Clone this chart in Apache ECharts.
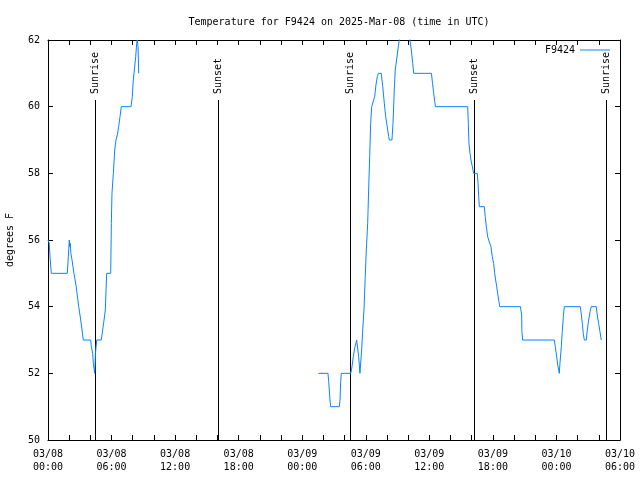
<!DOCTYPE html>
<html>
<head>
<meta charset="utf-8">
<script src="https://cdn.jsdelivr.net/npm/echarts@6/dist/echarts.min.js"></script>
<style>html,body{margin:0;padding:0;background:#fff;}#c{width:640px;height:480px;}</style>
</head>
<body>
<div id="c"></div>
<script>
// Hours since 2025-03-08 00:00 UTC and temperature in degrees F
var hours1 = [0.00,0.12,0.19,0.31,1.82,1.92,2.01,2.06,2.10,2.16,2.27,2.45,2.64,2.90,3.09,3.21,3.33,4.03,4.09,4.22,4.28,4.41,4.48,4.60,5.03,5.16,5.29,5.41,5.48,5.54,5.92,5.98,6.04,6.17,6.30,6.42,6.54,6.67,6.80,6.92,7.84,7.96,8.05,8.15,8.28,8.37,8.43,8.50,8.56];
var temps1 = [56,55.9,55.5,55,55,55.5,56,55.8,55.9,55.6,55.4,55.0,54.65,54.0,53.6,53.3,53.0,53.0,52.8,52.6,52.3,52.0,52.6,53.0,53.0,53.3,53.6,53.9,54.5,55.0,55.0,56.5,57.4,58.0,58.7,59.0,59.15,59.4,59.7,60.0,60.0,60.3,60.8,61.1,61.5,61.9,62.0,61.8,61.0];
var hours2 = [25.52,26.43,26.50,26.62,26.69,27.50,27.57,27.63,27.69,28.58,28.70,28.82,28.95,29.14,29.33,29.45,29.61,29.71,29.83,29.95,30.05,30.18,30.27,30.37,30.46,30.56,30.71,30.84,30.96,31.09,31.18,31.46,31.60,31.75,31.88,32.00,32.16,32.22,32.47,32.57,32.69,32.78,32.91,33.07,33.16,33.27,34.08,34.17,34.30,34.43,34.53,36.20,36.30,36.41,36.51,36.58,39.62,39.68,39.74,39.84,39.93,40.06,40.18,40.53,40.60,40.66,40.72,41.19,41.28,41.38,41.51,41.60,41.72,41.82,41.94,42.07,42.17,42.26,42.36,42.45,42.55,42.64,44.60,44.72,44.74,44.81,47.80,47.89,48.02,48.12,48.21,48.27,48.33,48.46,48.55,48.65,48.74,50.25,50.34,50.44,50.53,50.63,50.82,50.91,51.04,51.17,51.29,51.76,51.85,51.98,52.11,52.23];
var temps2 = [52,52,51.75,51.2,51.0,51.0,51.2,51.75,52.0,52.0,52.2,52.5,52.75,53.0,52.5,52.0,52.7,53.3,53.9,54.9,55.7,56.5,57.5,58.5,59.5,60.0,60.0,60.3,60.65,60.9,61.0,61.0,60.6,60.1,59.7,59.45,59.1,59.0,59.0,59.5,60.5,61.1,61.4,61.8,62.0,62.3,62.3,62.0,61.7,61.3,61.0,61.0,60.7,60.4,60.15,60.0,60.0,59.5,58.9,58.6,58.4,58.2,58.0,58.0,57.7,57.3,57.0,57.0,56.7,56.4,56.1,56.0,55.95,55.8,55.5,55.3,55.0,54.8,54.6,54.4,54.2,54.0,54.0,53.75,53.25,53.0,53.0,52.8,52.5,52.25,52.1,52.0,52.3,52.8,53.25,53.7,54.0,54.0,53.8,53.5,53.2,53.0,53.0,53.3,53.6,53.85,54.0,54.0,53.75,53.5,53.25,53.0];
var sunHours = [4.47, 16.05, 28.51, 40.22, 52.68];
var sunLabels = ['Sunrise', 'Sunset', 'Sunrise', 'Sunset', 'Sunrise'];
var sunLineTop = 60.2;
var xTickLabels = ['03/08\n00:00','03/08\n06:00','03/08\n12:00','03/08\n18:00','03/09\n00:00','03/09\n06:00','03/09\n12:00','03/09\n18:00','03/10\n00:00','03/10\n06:00'];
var seriesName = 'F9424';
var titleText = 'Temperature for F9424 on 2025-Mar-08 (time in UTC)';
var yName = 'degrees F';

var lineData = [];
for (var i = 0; i < hours1.length; i++) lineData.push([hours1[i], temps1[i]]);
lineData.push([null, null]);
for (var j = 0; j < hours2.length; j++) lineData.push([hours2[j], temps2[j]]);
var sunData = sunHours.map(function (h) { return [h]; });

var FONT = '"DejaVu Sans Mono", monospace';
var LINE_COLOR = '#0a84ff';
var axisLineStyle = { color: '#000', width: 1 };
function xAx(pos, showLabel) {
  return {
    type: 'value', position: pos, min: 0, max: 54, interval: 6,
    axisLine: { show: true, onZero: false, lineStyle: axisLineStyle },
    axisTick: { show: true, inside: true, length: 5, lineStyle: axisLineStyle },
    minorTick: { show: true, splitNumber: 3, length: 5, lineStyle: axisLineStyle },
    splitLine: { show: false },
    axisLabel: { show: showLabel, margin: 8, color: '#000', fontFamily: FONT, fontSize: 10, lineHeight: 13,
      formatter: function (v) { return xTickLabels[Math.round(v / 6)]; } }
  };
}
function yAx(pos, showLabel) {
  return {
    type: 'value', position: pos, min: 50, max: 62, interval: 2,
    axisLine: { show: true, onZero: false, lineStyle: axisLineStyle },
    axisTick: { show: true, inside: true, length: 5, lineStyle: axisLineStyle },
    splitLine: { show: false },
    axisLabel: { show: showLabel, margin: 8, color: '#000', fontFamily: FONT, fontSize: 10 },
    name: showLabel ? yName : '', nameLocation: 'middle', nameGap: 33, nameRotate: 90,
    nameTextStyle: { color: '#000', fontFamily: FONT, fontSize: 10 }
  };
}

var chart = echarts.init(document.getElementById('c'), null, { renderer: 'canvas' });
chart.setOption({
  animation: false,
  backgroundColor: '#fff',
  title: { text: titleText, left: 334, textAlign: 'center', top: 12,
    textStyle: { fontFamily: FONT, fontSize: 10, fontWeight: 'normal', color: '#000' } },
  legend: { data: [{ name: seriesName, icon: 'rect' }], right: 30, top: 45, padding: 0,
    itemWidth: 30, itemHeight: 1, itemGap: 7,
    align: 'right', textStyle: { fontFamily: FONT, fontSize: 10, color: '#000' } },
  grid: { left: 48, right: 20, top: 40, bottom: 40, containLabel: false, outerBoundsMode: 'none' },
  xAxis: [xAx('bottom', true), xAx('top', false)],
  yAxis: [yAx('left', true), yAx('right', false)],
  series: [
    { name: seriesName, type: 'line', data: lineData, showSymbol: false, symbol: 'none',
      connectNulls: false, clip: true,
      lineStyle: { color: LINE_COLOR, width: 1 }, itemStyle: { color: LINE_COLOR }, z: 3 },
    { name: 'sun', type: 'custom', data: sunData, silent: true, z: 2,
      renderItem: function (params, api) {
        var t = api.value(0);
        var p0 = api.coord([t, 50]);
        var p1 = api.coord([t, sunLineTop]);
        var x = Math.round(p0[0]) + 0.5;
        return { type: 'group', children: [
          { type: 'line', shape: { x1: x, y1: Math.round(p0[1]), x2: x, y2: Math.round(p1[1]) },
            style: { stroke: '#000', lineWidth: 1 } },
          { type: 'text', x: x, y: p1[1] - 6, rotation: Math.PI / 2,
            style: { text: sunLabels[params.dataIndex], fill: '#000', font: '10px ' + FONT,
              align: 'left', verticalAlign: 'middle' } }
        ] };
      } }
  ]
});
</script>
</body>
</html>
